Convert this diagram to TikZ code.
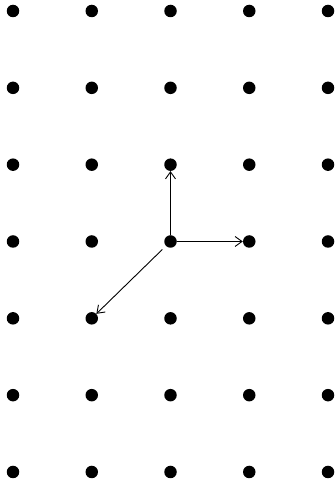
\documentclass[tikz,border=0pt]{standalone}
\usetikzlibrary{arrows.meta}
\begin{document}
\begin{tikzpicture}[x=1pt,y=-1pt,
  dot/.style={circle,fill=black,inner sep=0pt,minimum size=12.5pt},
  vec/.style={line width=0.9pt,-{Straight Barb[length=7pt,width=10pt,line width=0.9pt]}}]
\useasboundingbox (0,0) rectangle (336,484);
\foreach \i in {0,...,4}{
  \foreach \j in {0,...,6}{
    \node[dot] (d\i\j) at ({13+78.75*\i},{11+76.83*\j}) {};
  }
}
\draw[vec] (d23) -- (d22);
\draw[vec] (d23) -- (d33);
\draw[vec,shorten <=5pt] (d23) -- (d14);
\end{tikzpicture}
\end{document}
